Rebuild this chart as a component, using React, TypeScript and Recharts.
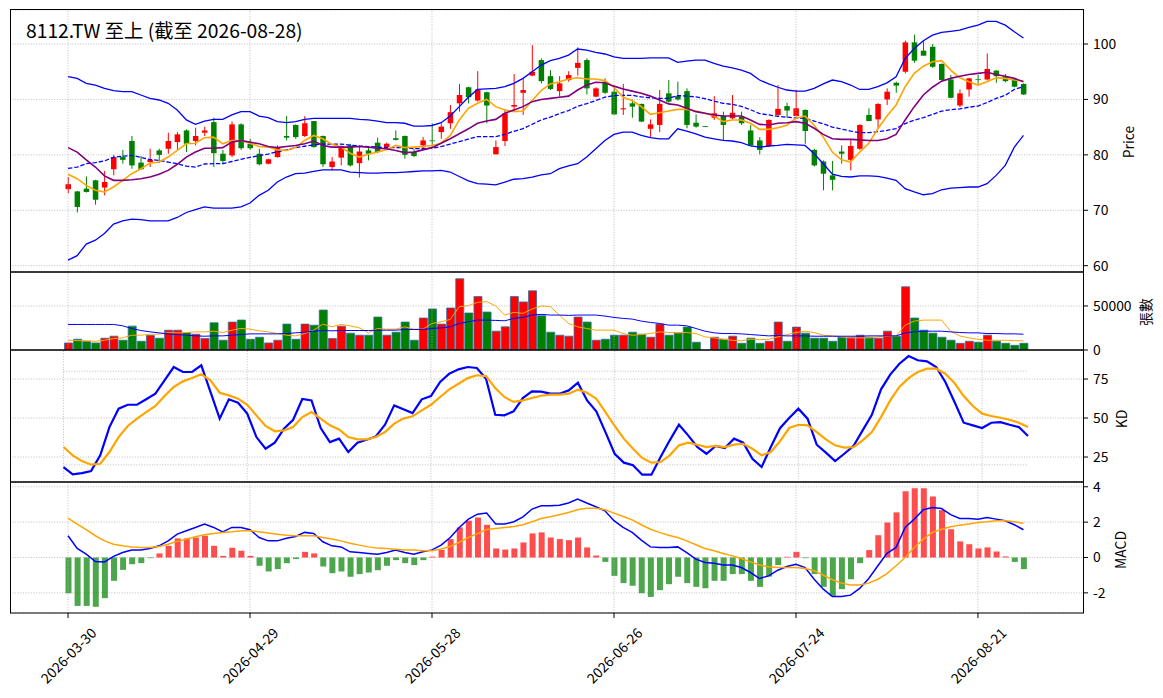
import { Bar, CartesianGrid, Cell, ComposedChart, Line, ReferenceLine, XAxis, YAxis } from 'recharts'

const FONT = '"Noto Sans CJK TC", "Noto Sans", sans-serif'
const RED = '#ff0000'
const GREEN = '#008000'

// trading days shown on the chart
const tradingDays: [string, number[]][] = [
  ['2026-03', [30, 31]],
  ['2026-04', [1, 2, 7, 8, 9, 10, 13, 14, 15, 16, 17, 20, 21, 22, 23, 24, 27, 28, 29, 30]],
  ['2026-05', [4, 5, 6, 7, 8, 11, 12, 13, 14, 15, 18, 19, 20, 21, 22, 25, 26, 27, 28, 29]],
  ['2026-06', [1, 2, 3, 4, 5, 8, 9, 10, 11, 12, 15, 16, 17, 18, 22, 23, 24, 25, 26, 29, 30]],
  ['2026-07', [1, 2, 3, 6, 7, 8, 9, 10, 13, 14, 15, 16, 17, 20, 21, 22, 23, 24, 27, 28, 29, 30, 31]],
  ['2026-08', [3, 4, 5, 6, 7, 10, 11, 12, 13, 14, 17, 18, 19, 20, 21, 24, 25, 26, 27, 28]],
]

const open = [73.8, 73.4, 73.9, 75.4, 74.1, 77.4, 79.6, 82.5, 78.6, 78.7, 80.8, 81.1, 82.3, 84.4, 82.5, 84.0, 85.9, 80.2, 79.9, 85.5, 82.0, 80.2, 78.4, 79.6, 83.4, 85.4, 83.4, 86.1, 83.4, 77.8, 79.5, 81.7, 78.5, 80.8, 82.2, 81.4, 83.0, 83.4, 80.5, 81.7, 82.6, 84.1, 85.7, 89.3, 92.2, 89.8, 91.3, 80.1, 82.5, 88.7, 91.2, 94.3, 97.1, 94.2, 91.5, 93.5, 95.7, 97.1, 90.5, 93.2, 91.4, 88.2, 89.3, 89.2, 84.7, 85.4, 91.1, 90.6, 91.5, 85.8, 85.2, 86.7, 87.0, 86.6, 86.9, 84.4, 82.6, 81.6, 87.2, 88.8, 87.0, 88.1, 80.9, 78.8, 76.3, 80.6, 79.1, 81.1, 87.2, 86.4, 90.0, 93.0, 95.0, 100.3, 98.8, 99.5, 96.4, 93.6, 88.9, 91.8, 93.7, 93.6, 95.2, 94.2, 93.6, 92.8]
const high = [76.0, 73.5, 76.1, 75.5, 77.1, 80.0, 80.9, 83.4, 79.8, 81.1, 81.1, 84.0, 84.1, 84.6, 84.9, 85.1, 86.7, 80.9, 86.0, 85.7, 82.9, 81.1, 79.3, 81.7, 87.0, 85.5, 87.0, 86.1, 83.5, 79.6, 81.7, 82.0, 81.7, 81.3, 83.1, 82.2, 84.4, 83.5, 81.1, 83.2, 85.7, 85.7, 89.0, 92.8, 92.3, 95.1, 91.4, 82.6, 88.2, 94.6, 93.8, 99.8, 97.4, 95.3, 94.2, 95.1, 99.4, 97.4, 92.2, 93.8, 92.4, 92.8, 90.0, 89.2, 86.4, 91.7, 93.5, 93.2, 92.0, 87.3, 85.2, 90.6, 87.8, 90.8, 87.8, 85.4, 83.2, 86.4, 92.6, 89.4, 91.7, 88.2, 81.1, 79.0, 78.9, 81.7, 82.9, 85.5, 88.4, 89.3, 92.0, 93.2, 100.6, 101.7, 100.5, 100.0, 96.5, 94.4, 91.8, 93.9, 94.4, 98.3, 95.3, 94.6, 93.7, 92.9]
const low = [73.1, 69.6, 73.2, 71.0, 72.7, 76.3, 78.4, 77.5, 77.3, 77.8, 78.5, 80.2, 80.9, 80.5, 81.7, 83.4, 77.8, 78.3, 79.6, 80.9, 80.9, 78.1, 78.3, 79.5, 82.6, 82.9, 83.2, 81.3, 77.8, 77.2, 78.1, 77.9, 75.9, 79.0, 80.3, 81.3, 82.6, 79.3, 79.6, 81.1, 81.4, 82.9, 84.7, 87.8, 89.3, 89.6, 85.7, 80.1, 81.6, 87.8, 87.2, 94.2, 92.9, 91.7, 90.5, 93.2, 94.3, 90.9, 90.4, 91.0, 87.3, 87.2, 86.7, 85.9, 83.2, 84.1, 89.4, 89.8, 84.8, 84.9, 85.0, 86.3, 82.6, 86.4, 85.4, 81.7, 80.1, 81.4, 87.0, 86.7, 86.9, 82.0, 77.9, 73.6, 73.6, 78.4, 77.2, 80.9, 86.1, 84.8, 89.0, 91.2, 94.7, 96.6, 97.9, 95.7, 93.4, 90.2, 88.6, 90.5, 92.8, 93.4, 93.0, 93.1, 92.2, 90.8]
const close = [74.7, 70.6, 73.3, 71.9, 75.1, 79.6, 79.1, 78.1, 77.4, 79.1, 80.0, 82.5, 83.7, 82.0, 83.4, 84.4, 80.3, 78.9, 85.5, 81.2, 81.2, 78.3, 79.2, 81.4, 83.1, 83.2, 85.7, 81.4, 78.3, 78.8, 81.6, 78.1, 80.6, 80.2, 80.5, 82.0, 82.7, 80.0, 79.8, 82.6, 82.5, 85.1, 87.7, 90.8, 90.4, 91.8, 88.9, 81.4, 87.5, 89.0, 91.7, 95.0, 93.3, 91.9, 92.9, 94.4, 96.6, 92.0, 92.0, 91.2, 87.3, 88.4, 88.7, 86.0, 85.5, 89.2, 89.6, 90.0, 85.4, 85.1, 85.1, 87.5, 85.4, 87.6, 85.7, 81.7, 80.9, 86.3, 88.3, 88.0, 88.4, 84.3, 78.1, 76.6, 75.5, 80.2, 81.6, 85.4, 86.1, 89.2, 91.4, 92.5, 100.3, 97.0, 97.9, 95.9, 93.5, 90.3, 91.1, 93.8, 93.6, 95.5, 94.2, 93.3, 92.3, 90.9]

const bbUpper = [94.1, 93.8, 92.9, 92.6, 92.0, 91.6, 91.4, 91.4, 90.8, 90.2, 89.9, 89.3, 88.1, 86.3, 85.5, 86.1, 86.4, 86.4, 87.2, 87.8, 87.8, 87.0, 86.7, 86.0, 85.8, 86.0, 86.4, 86.6, 86.6, 86.6, 86.6, 86.6, 86.4, 86.3, 86.1, 85.8, 85.8, 85.7, 85.2, 85.2, 85.3, 85.8, 87.0, 88.7, 90.4, 91.8, 91.9, 92.0, 92.3, 92.9, 93.8, 95.0, 96.2, 97.0, 97.4, 98.0, 99.1, 98.9, 98.5, 98.2, 97.7, 97.4, 97.4, 97.4, 97.5, 97.5, 97.5, 96.7, 96.9, 97.1, 97.1, 96.5, 96.0, 95.7, 95.3, 94.7, 93.5, 92.8, 92.2, 91.7, 91.5, 91.5, 92.0, 92.8, 93.5, 93.2, 92.6, 91.8, 91.8, 92.3, 93.0, 94.1, 97.4, 99.2, 100.6, 101.6, 102.1, 102.3, 102.5, 103.0, 103.4, 104.1, 104.1, 103.4, 102.2, 101.1]
const bbMid = [77.55, 77.8, 78.4, 78.6, 78.9, 79.55, 79.75, 79.9, 79.55, 79.15, 79.0, 78.7, 78.4, 77.95, 77.8, 78.35, 78.4, 78.4, 78.8, 79.2, 79.55, 79.85, 80.15, 80.55, 80.9, 81.3, 81.55, 81.8, 81.95, 81.95, 81.95, 81.75, 81.6, 81.5, 81.4, 81.3, 81.3, 81.3, 81.1, 81.15, 81.2, 81.5, 81.95, 82.4, 82.85, 83.3, 83.3, 83.3, 83.7, 84.25, 84.75, 85.5, 86.3, 86.8, 87.45, 88.0, 88.75, 89.25, 89.8, 90.4, 90.7, 90.75, 90.75, 90.45, 90.3, 90.2, 90.2, 90.7, 90.6, 90.45, 90.15, 89.7, 89.3, 89.1, 88.75, 88.15, 87.45, 87.2, 86.95, 86.8, 86.65, 86.6, 86.1, 85.6, 85.0, 84.65, 84.3, 84.0, 84.0, 84.2, 84.4, 84.75, 85.65, 86.25, 86.7, 87.3, 87.9, 88.15, 88.3, 88.6, 88.8, 89.45, 90.2, 90.75, 91.8, 92.3]
const bbLower = [61.0, 61.8, 63.9, 64.6, 65.8, 67.5, 68.1, 68.4, 68.3, 68.1, 68.1, 68.1, 68.7, 69.6, 70.1, 70.6, 70.4, 70.4, 70.4, 70.6, 71.3, 72.7, 73.6, 75.1, 76.0, 76.6, 76.7, 77.0, 77.3, 77.3, 77.3, 76.9, 76.8, 76.7, 76.7, 76.8, 76.8, 76.9, 77.0, 77.1, 77.1, 77.2, 76.9, 76.1, 75.3, 74.8, 74.7, 74.6, 75.1, 75.6, 75.7, 76.0, 76.4, 76.6, 77.5, 78.0, 78.4, 79.6, 81.1, 82.6, 83.7, 84.1, 84.1, 83.5, 83.1, 82.9, 82.9, 84.7, 84.3, 83.8, 83.2, 82.9, 82.6, 82.5, 82.2, 81.6, 81.4, 81.6, 81.7, 81.9, 81.8, 81.7, 80.2, 78.4, 76.5, 76.1, 76.0, 76.2, 76.2, 76.1, 75.8, 75.4, 73.9, 73.3, 72.8, 73.0, 73.7, 74.0, 74.1, 74.2, 74.2, 74.8, 76.3, 78.1, 81.4, 83.5]
const ma5 = [76.5, 75.7, 74.5, 73.6, 73.3, 74.2, 75.4, 76.6, 77.5, 78.5, 78.7, 79.6, 80.8, 82.0, 82.1, 83.1, 83.2, 82.0, 82.6, 82.6, 82.1, 81.5, 81.4, 80.9, 80.8, 81.3, 82.6, 83.5, 82.9, 81.9, 81.4, 80.3, 79.6, 80.1, 80.5, 80.9, 81.7, 81.3, 81.4, 81.5, 81.7, 82.1, 83.5, 86.3, 88.4, 89.3, 90.0, 88.7, 88.1, 87.8, 87.9, 89.8, 91.6, 92.8, 93.2, 93.7, 93.9, 93.7, 93.7, 93.4, 92.2, 90.4, 89.8, 88.7, 87.3, 87.6, 87.9, 88.2, 88.2, 87.9, 87.5, 87.0, 86.0, 86.3, 86.3, 85.7, 84.6, 84.6, 84.9, 85.35, 86.6, 87.0, 85.35, 83.2, 80.5, 79.1, 78.7, 80.5, 82.1, 84.7, 87.0, 89.0, 92.3, 94.7, 96.0, 96.8, 97.0, 95.3, 93.9, 93.2, 92.6, 93.2, 93.9, 93.8, 93.5, 93.3]
const ma10 = [81.3, 80.5, 79.1, 77.8, 76.2, 75.4, 75.4, 75.5, 75.7, 76.0, 76.5, 77.2, 78.3, 79.6, 80.5, 81.2, 81.2, 81.3, 82.3, 82.6, 82.3, 82.0, 81.5, 81.3, 81.5, 81.7, 82.0, 82.5, 81.7, 81.4, 81.4, 81.4, 81.5, 81.4, 81.2, 81.1, 80.8, 80.4, 80.5, 80.9, 81.3, 82.1, 82.9, 83.8, 84.7, 85.7, 86.1, 86.4, 87.5, 88.1, 88.7, 89.6, 90.0, 90.2, 90.4, 90.6, 91.7, 92.6, 93.1, 93.0, 92.4, 91.9, 91.5, 91.1, 90.6, 89.9, 89.2, 89.0, 88.4, 87.8, 87.5, 87.2, 87.0, 87.0, 87.0, 86.3, 85.5, 85.4, 85.7, 85.8, 86.0, 85.7, 84.8, 83.7, 82.9, 82.8, 82.8, 82.7, 82.6, 82.6, 82.9, 83.7, 86.3, 88.7, 90.8, 92.2, 93.3, 93.8, 94.2, 94.5, 94.7, 94.9, 94.5, 94.2, 93.8, 93.2]

const volume = [8000, 12200, 9900, 8000, 13400, 15700, 11100, 27100, 9900, 16400, 13400, 22500, 22500, 19500, 17900, 13000, 30900, 11100, 31700, 34000, 12200, 14500, 8000, 11100, 29400, 12200, 29400, 28200, 45400, 13000, 27100, 19100, 16800, 16800, 37400, 16800, 20200, 31700, 11100, 36300, 46600, 29400, 47700, 80900, 42000, 60700, 43100, 21400, 26300, 60700, 54600, 67200, 38900, 20200, 16800, 15700, 37400, 31700, 11100, 12200, 16800, 16800, 20200, 17900, 14500, 29400, 16800, 19100, 26000, 8800, 0, 14500, 12200, 15700, 7600, 13400, 7600, 9900, 31700, 9900, 26000, 19100, 13400, 13400, 9900, 14500, 14500, 16800, 14500, 13400, 21400, 15700, 71800, 36300, 22500, 19100, 14500, 11100, 7600, 9900, 8800, 16800, 9900, 7600, 5300, 7600]
const volMa5 = [11070, 10690, 10300, 9920, 11070, 12980, 13740, 16800, 16800, 17940, 17940, 19850, 19470, 19850, 20610, 20610, 21375, 19850, 22520, 24430, 23670, 21760, 20610, 18700, 16800, 16030, 18700, 22520, 29390, 26340, 29010, 27480, 25190, 19470, 24430, 23670, 23670, 26340, 23670, 23670, 30150, 32060, 34730, 49240, 50380, 54200, 54965, 50000, 39700, 42750, 41600, 46570, 50000, 49240, 39700, 30150, 26340, 24430, 22520, 22520, 22520, 18700, 16800, 17560, 18700, 20610, 19850, 19850, 19850, 18700, 14890, 13740, 12215, 11070, 10300, 12215, 11830, 12215, 14890, 17560, 19850, 21375, 19850, 16800, 16030, 14890, 13740, 13740, 13740, 14890, 15650, 16030, 28245, 32830, 33970, 33970, 33970, 21375, 16030, 13740, 12215, 11070, 11070, 11070, 10690, 10300]
const volMa20 = [29010, 29010, 29010, 29010, 29010, 29010, 27480, 24430, 22140, 20610, 19470, 18320, 17560, 16795, 16030, 15650, 16030, 16030, 16795, 17560, 18320, 18320, 18320, 18320, 18700, 19470, 20230, 21375, 22140, 21760, 22140, 22140, 22140, 22140, 22520, 22520, 22520, 23280, 23280, 23280, 24430, 25190, 26340, 30150, 32060, 33970, 33970, 33590, 33200, 35880, 37020, 39700, 40460, 39700, 39700, 39300, 39700, 39700, 39700, 38550, 37020, 35880, 35120, 32830, 31300, 30150, 28245, 28245, 27480, 24430, 21375, 19470, 18700, 18700, 18320, 17560, 16795, 16030, 16410, 16030, 16030, 16030, 15650, 15650, 15650, 15650, 15650, 15650, 16030, 16030, 16030, 16030, 19470, 20610, 21375, 21375, 21375, 20610, 19850, 19470, 19470, 18700, 18700, 18320, 18320, 17940]

const kLine = [18.6, 13.9, 14.7, 16.0, 26.1, 44.2, 56.0, 58.5, 58.5, 62.0, 65.6, 74.1, 82.7, 79.5, 79.5, 83.8, 66.7, 49.6, 62.0, 59.8, 52.8, 37.8, 30.3, 34.2, 43.2, 48.9, 62.2, 61.3, 43.6, 34.6, 36.8, 28.2, 34.2, 36.1, 38.2, 45.7, 58.1, 55.6, 53.2, 62.0, 64.1, 73.1, 78.4, 81.2, 82.7, 82.1, 75.2, 52.1, 51.7, 54.3, 62.8, 67.1, 66.9, 65.6, 65.6, 67.7, 72.6, 61.3, 54.3, 41.0, 27.1, 21.4, 19.7, 13.7, 13.7, 25.0, 35.7, 45.7, 38.9, 31.4, 27.1, 32.1, 30.8, 36.8, 34.2, 23.9, 18.6, 31.4, 43.5, 50.0, 56.0, 49.6, 32.9, 27.8, 22.4, 27.1, 32.1, 42.1, 52.1, 68.4, 77.8, 84.8, 89.7, 87.0, 86.3, 82.7, 73.1, 60.3, 47.0, 45.3, 43.6, 47.0, 47.4, 45.7, 44.2, 38.5]
const dLine = [31.4, 26.1, 22.4, 20.1, 20.7, 28.2, 37.8, 44.9, 49.6, 53.8, 57.7, 64.1, 69.9, 73.5, 75.6, 78.0, 74.1, 66.2, 64.5, 62.4, 58.5, 51.7, 44.9, 41.5, 42.1, 44.2, 50.6, 53.8, 49.6, 45.3, 42.7, 37.8, 36.3, 36.3, 37.8, 41.0, 46.4, 49.6, 51.1, 54.9, 58.5, 63.5, 68.4, 72.0, 75.6, 77.4, 76.9, 69.2, 63.5, 60.3, 61.3, 62.8, 64.3, 65.0, 65.0, 65.6, 68.2, 66.2, 62.4, 53.8, 44.9, 36.8, 30.3, 24.4, 21.4, 21.8, 26.1, 32.5, 34.2, 32.9, 31.4, 32.1, 31.4, 32.9, 33.5, 30.3, 26.1, 28.2, 35.1, 43.6, 45.7, 45.3, 41.0, 36.3, 32.5, 31.0, 31.4, 35.7, 41.0, 50.6, 61.3, 69.9, 75.6, 79.5, 81.6, 81.6, 78.4, 72.4, 64.1, 57.7, 52.8, 51.3, 50.2, 48.9, 47.0, 44.2]

const dif = [1.23, 0.51, 0.19, -0.23, -0.25, 0.06, 0.28, 0.42, 0.43, 0.51, 0.66, 0.94, 1.32, 1.51, 1.70, 1.89, 1.70, 1.45, 1.70, 1.70, 1.57, 1.13, 0.94, 0.94, 1.09, 1.19, 1.42, 1.36, 0.89, 0.66, 0.60, 0.32, 0.28, 0.23, 0.19, 0.28, 0.42, 0.28, 0.19, 0.32, 0.43, 0.70, 1.13, 1.70, 2.17, 2.45, 2.51, 1.89, 1.89, 2.02, 2.30, 2.74, 2.92, 2.92, 2.96, 3.08, 3.30, 3.08, 2.87, 2.64, 2.08, 1.70, 1.42, 0.98, 0.60, 0.57, 0.57, 0.60, 0.28, -0.09, -0.28, -0.32, -0.43, -0.42, -0.57, -0.85, -1.19, -1.04, -0.72, -0.51, -0.38, -0.57, -1.23, -1.79, -2.21, -2.21, -2.13, -1.75, -1.19, -0.47, 0.23, 0.57, 1.70, 2.17, 2.70, 2.83, 2.77, 2.42, 2.21, 2.21, 2.17, 2.26, 2.17, 2.08, 1.85, 1.57]
const dea = [2.23, 1.89, 1.57, 1.23, 0.94, 0.75, 0.66, 0.60, 0.57, 0.57, 0.62, 0.75, 0.91, 1.04, 1.17, 1.28, 1.36, 1.42, 1.45, 1.51, 1.51, 1.45, 1.38, 1.32, 1.26, 1.23, 1.23, 1.23, 1.13, 1.04, 0.94, 0.81, 0.70, 0.60, 0.53, 0.51, 0.47, 0.42, 0.42, 0.38, 0.38, 0.48, 0.62, 0.86, 1.13, 1.35, 1.58, 1.64, 1.70, 1.75, 1.85, 2.02, 2.20, 2.30, 2.42, 2.55, 2.70, 2.79, 2.79, 2.70, 2.51, 2.32, 2.13, 1.85, 1.60, 1.42, 1.26, 1.13, 0.94, 0.72, 0.51, 0.38, 0.23, 0.09, -0.06, -0.25, -0.42, -0.53, -0.57, -0.57, -0.57, -0.62, -0.75, -1.00, -1.26, -1.45, -1.55, -1.55, -1.45, -1.23, -0.91, -0.47, 0.00, 0.57, 1.04, 1.42, 1.60, 1.74, 1.83, 1.89, 1.98, 2.02, 2.08, 2.08, 2.02, 1.94]
const hist = [-2.02, -2.74, -2.74, -2.79, -2.30, -1.32, -0.70, -0.38, -0.32, -0.04, 0.23, 0.66, 1.08, 1.08, 1.13, 1.23, 0.66, 0.09, 0.55, 0.38, 0.09, -0.47, -0.79, -0.66, -0.32, -0.09, 0.32, 0.23, -0.51, -0.89, -0.79, -1.09, -0.94, -0.85, -0.72, -0.47, -0.15, -0.32, -0.43, -0.15, 0.05, 0.43, 1.04, 1.70, 2.08, 2.26, 1.85, 0.51, 0.45, 0.51, 0.85, 1.36, 1.42, 1.13, 1.04, 0.98, 1.13, 0.57, 0.11, -0.25, -1.04, -1.45, -1.60, -2.02, -2.23, -1.85, -1.51, -1.09, -1.45, -1.66, -1.74, -1.32, -1.32, -0.94, -0.94, -1.32, -1.66, -1.08, -0.43, 0.04, 0.32, -0.04, -0.94, -1.66, -2.17, -1.79, -1.23, -0.32, 0.42, 1.26, 1.98, 2.55, 3.74, 3.91, 3.91, 3.45, 2.68, 1.60, 0.91, 0.75, 0.51, 0.57, 0.34, 0.06, -0.25, -0.66]

const dates = tradingDays.flatMap(([m, days]) => days.map((d) => `${m}-${String(d).padStart(2, '0')}`))

const rows = dates.map((date, i) => ({
  date,
  o: open[i], h: high[i], l: low[i], c: close[i],
  up: close[i] >= open[i],
  bbUpper: bbUpper[i], bbMid: bbMid[i], bbLower: bbLower[i], ma5: ma5[i], ma10: ma10[i],
  vol: volume[i], volMa5: volMa5[i], volMa20: volMa20[i],
  k: kLine[i], d: dLine[i],
  dif: dif[i], dea: dea[i], hist: hist[i],
}))

const gridDates = [0, 20, 40, 60, 80, 100].map((i) => dates[i])

const W = 1163
const PAD = { left: 53.5, right: 55 }
const MARGIN = { top: 10, right: 0, bottom: 10, left: 10 }
const tickStyle = { fontSize: 13.9, fill: '#000', fontFamily: FONT }
const gridProps = { stroke: '#b0b0b0', strokeDasharray: '1 1.6', strokeWidth: 0.8 }

function Candle(props: any) {
  const { x, width } = props
  let { y, height } = props
  const d = props.payload ?? rows[props.index]
  if (height < 0) { y += height; height = -height }
  const span = d.h - d.l
  const ppu = span > 0 ? height / span : 0
  const color = d.up ? RED : GREEN
  const top = y + (d.h - Math.max(d.o, d.c)) * ppu
  const bh = Math.max(Math.abs(d.o - d.c) * ppu, 0.8)
  const cx = x + width / 2
  return (
    <g>
      <line x1={cx} x2={cx} y1={y} y2={y + height} stroke={color} strokeWidth={1} />
      <rect x={x} y={top} width={width} height={bh} fill={color} />
    </g>
  )
}

function DateTick(props: any) {
  const { x, y, payload } = props
  const cy = y + 35
  return (
    <text x={x} y={cy} transform={`rotate(-45 ${x} ${cy})`} textAnchor="middle" dominantBaseline="central" fontSize={13.9} fill="#000" fontFamily={FONT}>
      {payload.value}
    </text>
  )
}

function VGrid() {
  return gridDates.map((d) => <ReferenceLine key={d} x={d} {...gridProps} />)
}

function Panel({ top, height, children, showX = false }: { top: number; height: number; children: any; showX?: boolean }) {
  return (
    <div style={{ position: 'absolute', left: 0, top: top - 10 }}>
      <ComposedChart width={W} height={height + (showX ? 95 : 20)} data={rows} margin={showX ? { ...MARGIN, bottom: 0 } : MARGIN}>
        <XAxis
          dataKey="date"
          hide={!showX}
          padding={PAD}
          interval={19}
          height={85}
          axisLine={false}
          tickLine={{ stroke: '#000' }}
          tickSize={5}
          tickMargin={2}
          tick={<DateTick />}
        />
        {children}
      </ComposedChart>
    </div>
  )
}

function yAxis(domain: [number, number], ticks: number[]) {
  return (
    <YAxis
      orientation="right"
      width={80}
      domain={domain}
      ticks={ticks}
      allowDataOverflow
      axisLine={false}
      tickLine={{ stroke: '#000' }}
      tickSize={5}
      tickMargin={5}
      tick={tickStyle}
    />
  )
}

export default function App() {
  return (
    <div style={{ position: 'absolute', left: 0, top: 0, width: W, height: 698, background: '#fff', fontFamily: FONT }}>
      <Panel top={10} height={262}>
        {yAxis([58.86, 106.14], [60, 70, 80, 90, 100])}
        <CartesianGrid vertical={false} {...gridProps} />
        {VGrid()}
        <Bar dataKey={(r: any) => [r.l, r.h]} barSize={5.5} shape={<Candle />} isAnimationActive={false} />
        <Line dataKey="bbUpper" stroke="#0000ff" strokeWidth={1.3} dot={false} isAnimationActive={false} />
        <Line dataKey="bbLower" stroke="#0000ff" strokeWidth={1.3} dot={false} isAnimationActive={false} />
        <Line dataKey="bbMid" stroke="#0000ff" strokeWidth={1.3} strokeDasharray="4.4 1.9" dot={false} isAnimationActive={false} />
        <Line dataKey="ma5" stroke="#ffa500" strokeWidth={1.6} dot={false} isAnimationActive={false} />
        <Line dataKey="ma10" stroke="#800080" strokeWidth={1.6} dot={false} isAnimationActive={false} />
      </Panel>

      <Panel top={272} height={78}>
        {yAxis([0, 88600], [0, 50000])}
        <CartesianGrid vertical={false} {...gridProps} />
        {VGrid()}
        <Bar dataKey="vol" barSize={8} stroke="#2d6fa3" strokeWidth={0.8} isAnimationActive={false}>
          {rows.map((r) => <Cell key={r.date} fill={r.up ? RED : GREEN} />)}
        </Bar>
        <Line dataKey="volMa5" stroke="#ffa500" strokeWidth={1} dot={false} isAnimationActive={false} />
        <Line dataKey="volMa20" stroke="#0000ff" strokeWidth={1} dot={false} isAnimationActive={false} />
      </Panel>

      <Panel top={350} height={132}>
        {yAxis([9.0, 93.6], [25, 50, 75])}
        <CartesianGrid vertical={false} {...gridProps} />
        {VGrid()}
        <ReferenceLine segment={[{ x: dates[0], y: 80 }, { x: dates[dates.length - 1], y: 80 }]} {...gridProps} />
        <ReferenceLine segment={[{ x: dates[0], y: 20 }, { x: dates[dates.length - 1], y: 20 }]} {...gridProps} />
        <Line dataKey="k" stroke="#0000ff" strokeWidth={2.2} dot={false} isAnimationActive={false} />
        <Line dataKey="d" stroke="#ffa500" strokeWidth={2.2} dot={false} isAnimationActive={false} />
      </Panel>

      <Panel top={482} height={131} showX>
        {yAxis([-3.14, 4.27], [-2, 0, 2, 4])}
        <CartesianGrid vertical={false} {...gridProps} />
        {VGrid()}
        <Bar dataKey="hist" barSize={6} isAnimationActive={false}>
          {rows.map((r) => <Cell key={r.date} fill={r.hist >= 0 ? RED : GREEN} fillOpacity={0.7} />)}
        </Bar>
        <Line dataKey="dif" stroke="#0000ff" strokeWidth={1.5} dot={false} isAnimationActive={false} />
        <Line dataKey="dea" stroke="#ffa500" strokeWidth={1.5} dot={false} isAnimationActive={false} />
      </Panel>

      <svg width={W} height={698} style={{ position: 'absolute', left: 0, top: 0, pointerEvents: 'none' }} fontFamily={FONT}>
        <g fill="none" stroke="#000" strokeWidth={1}>
          <rect x={10.5} y={9.5} width={1073} height={262.5} />
          <rect x={10.5} y={272} width={1073} height={78} />
          <rect x={10.5} y={350} width={1073} height={132} />
          <rect x={10.5} y={482} width={1073} height={131} />
        </g>
        <text x={26} y={38} fontSize={19.3} fill="#000">8112.TW 至上 (截至 2026-08-28)</text>
        <text transform="translate(1128,142) rotate(-90)" textAnchor="middle" dominantBaseline="central" fontSize={13.9} fill="#000">Price</text>
        <text transform="translate(1145,312) rotate(-90)" textAnchor="middle" dominantBaseline="central" fontSize={13.9} fill="#000">張數</text>
        <text transform="translate(1121,419) rotate(-90)" textAnchor="middle" dominantBaseline="central" fontSize={13.9} fill="#000">KD</text>
        <text transform="translate(1120,550) rotate(-90)" textAnchor="middle" dominantBaseline="central" fontSize={13.9} fill="#000">MACD</text>
      </svg>
    </div>
  )
}
